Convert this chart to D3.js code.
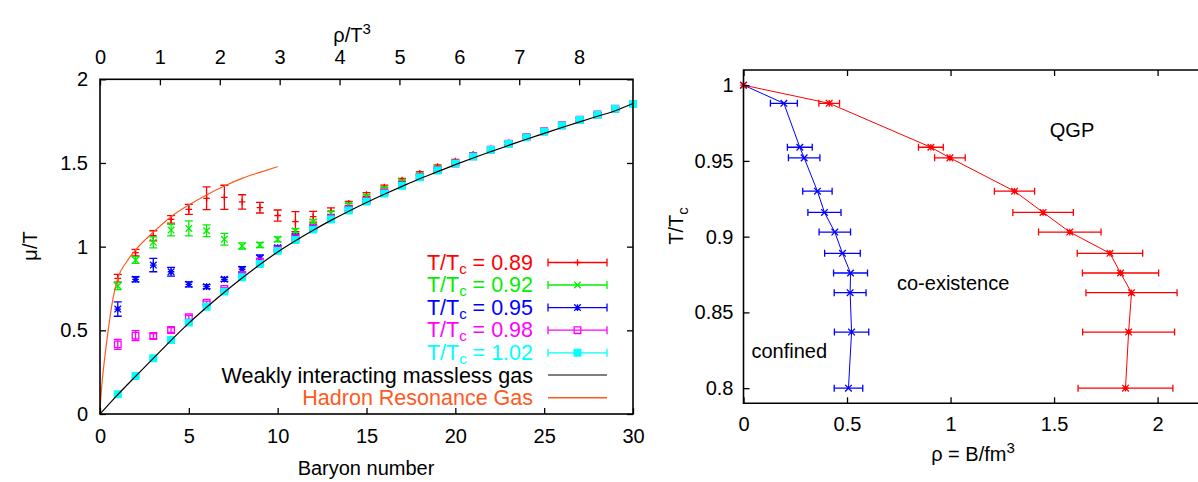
<!DOCTYPE html>
<html lang="en">
<head>
<meta charset="UTF-8">
<title>Baryon number and phase diagram</title>
<script src="https://d3js.org/d3.v7.min.js"></script>
<style>
    body { margin: 0; background: white; }
    svg { font-family: "Liberation Sans", Arial, sans-serif; }
</style>
</head>
<body>
<svg width="1198" height="482"></svg>
<script>
// ---- left panel data: mu/T against baryon number ----
const baryon = [1,2,3,4,5,6,7,8,9,10,11,12,13,14,15,16,17,18,19,20,21,22,23,24,25,26,27,28,29,30];
const temps = ["0.89", "0.92", "0.95", "0.98", "1.02"];
const colors = ["#ff0000", "#00f000", "#0000ff", "#ff00ff", "#00ffff"];
const shapes = ["plus", "cross", "star", "square", "fsquare"];

const mu089 = [0.811,0.964,1.065,1.163,1.223,1.289,1.295,1.267,1.233,1.186,1.149,1.179,1.212,1.259,1.311,1.356,1.398,1.438,1.478,1.512,1.552,1.585,1.620,1.658,1.692,1.727,1.760,1.791,1.825,1.854];
const err089 = [0.023,0.020,0.030,0.022,0.030,0.068,0.072,0.043,0.032,0.033,0.060,0.032,0.020,0.012,0.012,0.012,0.010,0.010,0.010,0.010,0.010,0.010,0.010,0.010,0.010,0.010,0.010,0.010,0.010,0.010];
const mu092 = [0.765,0.920,1.026,1.099,1.109,1.095,1.044,1.004,1.010,1.044,1.093,1.149,1.199,1.249,1.299,1.345,1.388,1.428,1.468,1.503,1.542,1.580,1.616,1.655,1.689,1.725,1.758,1.790,1.824,1.853];
const err092 = [0.022,0.020,0.033,0.035,0.045,0.035,0.035,0.018,0.015,0.015,0.015,0.012,0.010,0.010,0.010,0.010,0.010,0.010,0.010,0.010,0.010,0.010,0.010,0.010,0.010,0.010,0.010,0.010,0.010,0.010];
const mu095 = [0.627,0.805,0.890,0.850,0.775,0.761,0.805,0.865,0.930,0.994,1.060,1.115,1.172,1.226,1.276,1.325,1.369,1.419,1.459,1.499,1.540,1.580,1.615,1.655,1.690,1.725,1.758,1.790,1.824,1.853];
const err095 = [0.043,0.015,0.040,0.026,0.015,0.012,0.012,0.015,0.020,0.012,0.010,0.010,0.010,0.010,0.010,0.010,0.010,0.010,0.010,0.010,0.010,0.010,0.010,0.010,0.010,0.010,0.010,0.010,0.010,0.010];
const mu098 = [0.416,0.468,0.466,0.502,0.578,0.665,0.747,0.831,0.910,0.984,1.050,1.110,1.168,1.223,1.273,1.322,1.367,1.417,1.457,1.497,1.540,1.580,1.615,1.655,1.690,1.725,1.758,1.790,1.824,1.853];
const err098 = [0.030,0.030,0.015,0.015,0.012,0.010,0.010,0.010,0.010,0.010,0.010,0.010,0.010,0.010,0.010,0.010,0.010,0.010,0.010,0.010,0.010,0.010,0.010,0.010,0.010,0.010,0.010,0.010,0.010,0.010];
const mu102 = [0.118,0.227,0.333,0.442,0.546,0.641,0.731,0.817,0.896,0.975,1.040,1.102,1.162,1.216,1.269,1.317,1.363,1.414,1.455,1.496,1.538,1.578,1.613,1.653,1.687,1.723,1.757,1.788,1.823,1.852];
const err102 = [0.008,0.008,0.008,0.008,0.008,0.008,0.008,0.008,0.008,0.008,0.008,0.008,0.008,0.008,0.008,0.008,0.008,0.008,0.008,0.008,0.008,0.008,0.008,0.008,0.008,0.008,0.008,0.008,0.008,0.008];
const muSeries = [mu089, mu092, mu095, mu098, mu102];
const errSeries = [err089, err092, err095, err098, err102];

// free gas curve
const gasB  = [0,1,2,3,4,5,6,7,8,9,10,11,12,13,14,15,16,17,18,19,20,21,22,23,24,25,26,27,28,29,30];
const gasMu = [0,0.116,0.225,0.332,0.440,0.543,0.638,0.728,0.813,0.893,0.968,1.035,1.098,1.157,1.212,1.264,1.313,1.360,1.406,1.448,1.490,1.530,1.568,1.605,1.642,1.677,1.712,1.746,1.779,1.812,1.855];
// hadron resonance gas curve
const hrgB  = [0,0.02,0.05,0.1,0.2,0.4,0.65,1,1.5,2,3,4,5,6,7,8,9,10];
const hrgMu = [0,0.05,0.1,0.17,0.275,0.45,0.64,0.81,0.91,0.98,1.086,1.179,1.249,1.309,1.362,1.408,1.444,1.478];

// ---- right panel data: T/Tc against rho ----
const tcVals  = [1.000,0.988,0.959,0.952,0.930,0.916,0.903,0.889,0.876,0.863,0.837,0.800];
const rhoBlue = [0,0.195,0.272,0.293,0.357,0.391,0.441,0.478,0.517,0.515,0.522,0.507];
const errBlue = [0,0.065,0.060,0.076,0.071,0.080,0.076,0.086,0.082,0.077,0.083,0.069];
const rhoRed  = [0,0.414,0.905,0.997,1.309,1.447,1.576,1.770,1.821,1.874,1.860,1.845];
const errRed  = [0,0.050,0.060,0.074,0.097,0.146,0.151,0.158,0.184,0.220,0.222,0.229];

const yTicksL = [0, 0.5, 1, 1.5, 2];
const xTicksL = [0, 5, 10, 15, 20, 25, 30];
const x2Ticks = [0, 1, 2, 3, 4, 5, 6, 7, 8];
const xTicksR = [0, 0.5, 1, 1.5, 2];
const yTicksR = [0.8, 0.85, 0.9, 0.95, 1];

const svg = d3.select("svg");
svg.append("rect").attr("width", 1198).attr("height", 482).attr("fill", "white");

// marker path generator
function marker(kind, s) {
    if (kind == "plus") return `M${-s},0H${s}M0,${-s}V${s}`;
    if (kind == "cross") return `M${-s},${-s}L${s},${s}M${-s},${s}L${s},${-s}`;
    if (kind == "star") return `M${-s},0H${s}M0,${-s}V${s}M${-s},${-s}L${s},${s}M${-s},${s}L${s},${-s}`;
    return `M${-s},${-s}H${s}V${s}H${-s}Z`;
}
function drawMarker(g, kind, color, cx, cy, s) {
    g.append("path")
        .attr("transform", `translate(${cx},${cy})`)
        .attr("d", marker(kind, s))
        .attr("fill", kind == "fsquare" ? color : "none")
        .attr("stroke", color)
        .attr("stroke-width", 1.3);
}

// ================= left panel =================
const x = d3.scaleLinear().domain([0, 30]).range([100, 633]);
const x2 = d3.scaleLinear().domain([0, 8.9]).range([100, 633]);
const y = d3.scaleLinear().domain([0, 2]).range([414, 79.3]);

const left = svg.append("g");

// data points with error bars
muSeries.forEach((mu, k) => {
    const g = left.append("g");
    baryon.forEach((b, i) => {
        const cx = x(b), lo = y(mu[i] - errSeries[k][i]), hi = y(mu[i] + errSeries[k][i]);
        g.append("path")
            .attr("d", `M${cx},${lo}V${hi}M${cx-4},${lo}H${cx+4}M${cx-4},${hi}H${cx+4}`)
            .attr("stroke", colors[k]).attr("stroke-width", 1.3).attr("fill", "none");
        drawMarker(g, shapes[k], colors[k], cx, y(mu[i]), 3.3);
    });
});

// model curves
const line = d3.line().curve(d3.curveMonotoneX);
left.append("path")
    .attr("d", line(gasB.map((b, i) => [x(b), y(gasMu[i])])))
    .attr("fill", "none").attr("stroke", "#000").attr("stroke-width", 1.2);
left.append("path")
    .attr("d", line(hrgB.map((b, i) => [x(b), y(hrgMu[i])])))
    .attr("fill", "none").attr("stroke", "#ff5a1e").attr("stroke-width", 1.2);

// axes
function styleAxis(g) {
    g.select(".domain").remove();
    g.selectAll("line").attr("stroke", "#000").attr("stroke-width", 1.3);
    g.selectAll("text").attr("font-size", "20px").attr("fill", "#000")
        .attr("font-family", "Liberation Sans, Arial, sans-serif");
}
left.append("g").attr("transform", "translate(0,414)")
    .call(d3.axisBottom(x).tickValues(xTicksL).tickSize(-6).tickPadding(15).tickFormat(d3.format("d")))
    .call(styleAxis);
left.append("g").attr("transform", "translate(0,79.3)")
    .call(d3.axisTop(x2).tickValues(x2Ticks).tickSize(-6).tickPadding(15).tickFormat(d3.format("d")))
    .call(styleAxis);
left.append("g").attr("transform", "translate(100,0)")
    .call(d3.axisLeft(y).tickValues(yTicksL).tickSize(-6).tickPadding(12).tickFormat(d3.format("~g")))
    .call(styleAxis);
left.append("g").attr("transform", "translate(633,0)")
    .call(d3.axisRight(y).tickValues(yTicksL).tickSize(-6).tickFormat(""))
    .call(styleAxis);
left.append("rect")
    .attr("x", 100).attr("y", 79.3).attr("width", 533).attr("height", 334.7)
    .attr("fill", "none").attr("stroke", "#000").attr("stroke-width", 1.6);

// axis titles
left.append("text").attr("x", 366).attr("y", 475).attr("text-anchor", "middle")
    .attr("font-size", "20px").text("Baryon number");
const t2 = left.append("text").attr("x", 352).attr("y", 42).attr("text-anchor", "middle")
    .attr("font-size", "20px");
t2.append("tspan").text("ρ/T");
t2.append("tspan").attr("dy", -8).attr("font-size", "15px").text("3");
left.append("text").attr("transform", "translate(37,246) rotate(-90)")
    .attr("text-anchor", "middle").attr("font-size", "20px").text("μ/T");

// legend
const legendY = [269.5, 292, 314.6, 337.2, 359.8];
temps.forEach((t, k) => {
    const ty = legendY[k];
    const txt = left.append("text").attr("x", 533).attr("y", ty)
        .attr("text-anchor", "end").attr("font-size", "21.5px").attr("fill", colors[k]);
    txt.append("tspan").text("T/T");
    txt.append("tspan").attr("dy", 4).attr("font-size", "15px").text("c");
    txt.append("tspan").attr("dy", -4).text(" = " + t);
    const ly = ty - 7;
    left.append("path")
        .attr("d", `M548,${ly}H607M548,${ly-4}V${ly+4}M607,${ly-4}V${ly+4}`)
        .attr("stroke", colors[k]).attr("stroke-width", 1.3).attr("fill", "none");
    drawMarker(left, shapes[k], colors[k], 577.5, ly, 3.3);
});
left.append("text").attr("x", 533).attr("y", 382.6).attr("text-anchor", "end")
    .attr("font-size", "21.5px").text("Weakly interacting massless gas");
left.append("path").attr("d", "M548,375H607").attr("stroke", "#000").attr("stroke-width", 1.2);
left.append("text").attr("x", 533).attr("y", 405.2).attr("text-anchor", "end")
    .attr("font-size", "21.5px").attr("fill", "#ff5a1e").text("Hadron Resonance Gas");
left.append("path").attr("d", "M548,397.8H607").attr("stroke", "#ff5a1e").attr("stroke-width", 1.6);

// ================= right panel =================
const rx = d3.scaleLinear().domain([0, 2.2]).range([743.5, 1199]);
const ry = d3.scaleLinear().domain([0.79, 1.01]).range([403.3, 70]);
const right = svg.append("g");

function drawBranch(rho, err, color, kind) {
    const g = right.append("g");
    g.append("path")
        .attr("d", d3.line()(rho.map((r, i) => [rx(r), ry(tcVals[i])])))
        .attr("fill", "none").attr("stroke", color).attr("stroke-width", 1);
    rho.forEach((r, i) => {
        const cy = ry(tcVals[i]);
        if (err[i] > 0) {
            const a = rx(r - err[i]), b = rx(r + err[i]);
            g.append("path")
                .attr("d", `M${a},${cy}H${b}M${a},${cy-3.5}V${cy+3.5}M${b},${cy-3.5}V${cy+3.5}`)
                .attr("stroke", color).attr("stroke-width", 1.3).attr("fill", "none");
        }
        drawMarker(g, kind, color, rx(r), cy, 3.3);
    });
}
drawBranch(rhoBlue, errBlue, "#0000ff", "cross");
drawBranch(rhoRed, errRed, "#ff0000", "star");

right.append("g").attr("transform", "translate(0,403.3)")
    .call(d3.axisBottom(rx).tickValues(xTicksR).tickSize(-6).tickPadding(14).tickFormat(d3.format("~g")))
    .call(styleAxis);
right.append("g").attr("transform", "translate(0,70)")
    .call(d3.axisTop(rx).tickValues(xTicksR).tickSize(-6).tickFormat(""))
    .call(styleAxis);
right.append("g").attr("transform", "translate(743.5,0)")
    .call(d3.axisLeft(ry).tickValues(yTicksR).tickSize(-6).tickPadding(10).tickFormat(d3.format("~g")))
    .call(styleAxis);
// frame: the right edge lies just outside the picture, as in the source
right.append("path")
    .attr("d", "M1201,70H743.5V403.3H1201")
    .attr("fill", "none").attr("stroke", "#000").attr("stroke-width", 1.6);

const rt = right.append("text").attr("x", 973).attr("y", 461).attr("text-anchor", "middle")
    .attr("font-size", "20px");
rt.append("tspan").text("ρ = B/fm");
rt.append("tspan").attr("dy", -8).attr("font-size", "15px").text("3");
const ly = right.append("text").attr("transform", "translate(683,226) rotate(-90)")
    .attr("text-anchor", "middle").attr("font-size", "20px");
ly.append("tspan").text("T/T");
ly.append("tspan").attr("dy", 5).attr("font-size", "15px").text("c");

right.append("text").attr("x", 1072).attr("y", 137).attr("text-anchor", "middle")
    .attr("font-size", "20px").text("QGP");
right.append("text").attr("x", 897).attr("y", 289.5)
    .attr("font-size", "20px").text("co-existence");
right.append("text").attr("x", 751.5).attr("y", 357.5)
    .attr("font-size", "20px").text("confined");
</script>
</body>
</html>
